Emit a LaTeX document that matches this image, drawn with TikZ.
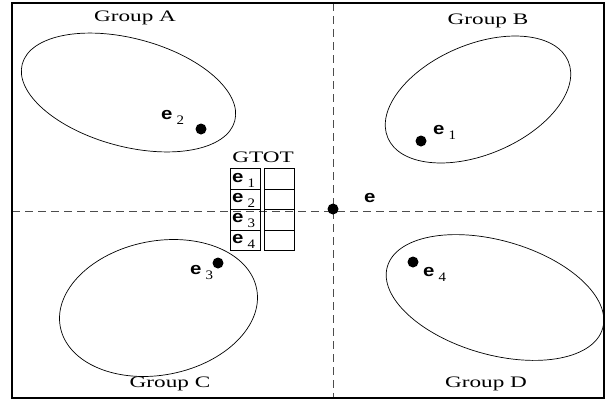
\documentclass[tikz,border=0pt]{standalone}
\usepackage{fontspec}
\setmainfont{Liberation Serif}
\newfontfamily\efont{Liberation Sans}
\begin{document}
\begin{tikzpicture}[x=1pt,y=-1pt,
  grp/.style={font=\fontsize{16}{18}\selectfont},
  dot/.style={circle,fill=black,inner sep=0pt,minimum size=11pt},
  elab/.style={inner sep=0pt,anchor=west},
  cell/.style={draw,line width=1.4pt,minimum width=30pt,minimum height=20.5pt,inner sep=0pt,anchor=north west},
  dsh/.style={dash pattern=on 8pt off 5pt,line width=0.9pt,gray!60!black},
  ell/.style={line width=0.7pt}]
\newcommand{\ebig}{\scalebox{1.2}[1]{\efont\bfseries\fontsize{17}{17}\selectfont e}}
\newcommand{\elbl}[1]{\ebig\hspace{4pt}\raisebox{-5pt}{\scalebox{1.15}[1]{\fontsize{13}{13}\selectfont #1}}}
\newcommand{\wide}[1]{\scalebox{1.45}[1]{#1}}
\useasboundingbox (0,0) rectangle (608,400);
\fill[white] (0,0) rectangle (608,400);
% dashed axes
\coordinate (vt) at (333,3);
\coordinate (vb) at (333,398);
\coordinate (hl) at (12,211);
\coordinate (hr) at (604,211);
\draw[dsh] (vt) -- (vb);
\draw[dsh] (hl) -- (hr);
% frame
\draw[line width=2pt] (12,3) rectangle (604,398);
% ellipses
\draw[ell,rotate around={-15:(128.5,92.5)}] (128.5,92.5) ellipse [x radius=110, y radius=54];
\draw[ell,rotate around={23:(478,99.5)}] (478,99.5) ellipse [x radius=98, y radius=55];
\draw[ell,rotate around={11:(158.5,308)}] (158.5,308) ellipse [x radius=100, y radius=67];
\draw[ell,rotate around={-16:(495,297.5)}] (495,297.5) ellipse [x radius=112, y radius=57];
% group labels
\node[grp] (ga) at (135,18) {\wide{Group A}};
\node[grp] (gb) at (488,21) {\wide{Group B}};
\node[grp] (gc) at (170,384) {\wide{Group C}};
\node[grp] (gd) at (486,384) {\wide{Group D}};
% dots
\node[dot] (d2) at (201,129) {};
\node[dot] (d1) at (421,141) {};
\node[dot] (d0) at (333,209) {};
\node[dot] (d3) at (218,263) {};
\node[dot] (d4) at (413,262) {};
% dot labels
\node[elab] (l2) at (161,117) {\elbl{2}};
\node[elab] (l1) at (433,132) {\elbl{1}};
\node[elab] (l0) at (364,198) {\ebig};
\node[elab] (l3) at (190,272) {\elbl{3}};
\node[elab] (l4) at (423,274) {\elbl{4}};
% GTOT table
\node[grp] (gt) at (263,157) {\wide{GTOT}};
\foreach \i/\y in {1/168,2/188.5,3/209,4/229.5}{
  \node[cell] (a\i) at (230,\y) {};
  \node[cell] (b\i) at (264,\y) {};
  \node[elab] (t\i) at ([xshift=2pt,yshift=-1pt]a\i.west) {\elbl{\i}};
}
\end{tikzpicture}
\end{document}
